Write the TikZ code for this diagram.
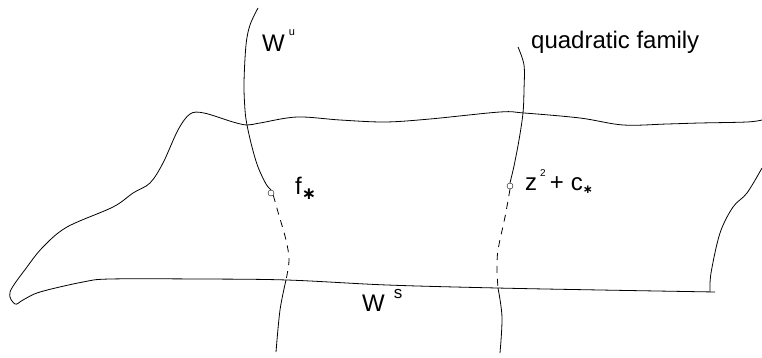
\documentclass[tikz,border=0pt]{standalone}
\usepackage{fontspec}
\setmainfont{Liberation Sans}
\newfontfamily\starfont{DejaVu Sans}
\newcommand{\fstarsym}[1]{{\fontsize{#1}{#1}\starfont\bfseries ∗}}
\tikzset{
  lbl/.style={font=\fontsize{24}{28}\selectfont, inner sep=0pt},
  fixpt/.style={circle, draw, inner sep=0pt, minimum size=6pt},
  sketch/.style={line width=0.8pt, smooth, tension=0.55},
  dash7/.style={dash pattern=on 7pt off 6pt},
}
\begin{document}
\begin{tikzpicture}[x=1pt, y=-1pt]
\useasboundingbox (0,0) rectangle (762,358);
% fixed points
\node[fixpt] (fstar) at (271,193) {};
\node[fixpt] (cstar) at (510,186) {};
% labels
\node[lbl, anchor=base west] (wu) at (262,52) {W\hspace{4pt}\raisebox{1.3ex}{\fontsize{11}{12}\selectfont u}};
\node[lbl, anchor=base west] (quad) at (531,49) {quadratic family};
\node[lbl, anchor=base west] (fl) at (295,194) {f\raisebox{-0.45ex}{\fstarsym{17}}};
\node[lbl, anchor=base west] (zl) at (525,190) {z\hspace{3pt}\raisebox{1.1ex}{\fontsize{10}{10}\selectfont 2}\hspace{4pt}+\hspace{7pt}c\raisebox{-0.3ex}{\fstarsym{12}}};
\node[lbl, anchor=base west] (ws) at (362,311) {W\hspace{9pt}\raisebox{0.95ex}{\fontsize{17}{18}\selectfont s}};
% outline of the domain
\draw[sketch] plot coordinates {(762,120) (747,122) (700,123) (667,124) (623,125) (580,118) (524,113) (500,112) (430,119) (385,122) (340,120) (297,117) (260,123) (247,125) (233,122) (204,113) (190,114) (178,130) (163,163) (150,183) (133,193) (113,207) (67,227) (43,247) (27,267) (10,292) (15,304) (23,300) (40,292) (83,282) (110,279) (200,279) (287,280) (387,285) (497,288) (600,290) (715,292)};
\draw[sketch] plot coordinates {(710,292) (711,273) (720,233) (733,207) (747,193) (762,168)};
% W^u
\draw[sketch] plot coordinates {(258,8) (250,25) (246,45) (244,83) (245,110) (247,125) (252,147) (258,167) (266,184) (fstar.north)};
\draw[sketch, dash7] plot coordinates {(fstar.south east) (278,212) (286,240) (289,260) (286,280)};
\draw[sketch] plot coordinates {(286,280) (280,310) (276,352)};
% quadratic family
\draw[sketch] plot coordinates {(518,47) (524,65) (524,90) (523,113) (519,140) (514,166) (cstar.north)};
\draw[sketch, dash7] plot coordinates {(cstar.south) (505,217) (498,250) (497,270) (498,288)};
\draw[sketch] plot coordinates {(498,288) (502,317) (500,353)};
\end{tikzpicture}
\end{document}
